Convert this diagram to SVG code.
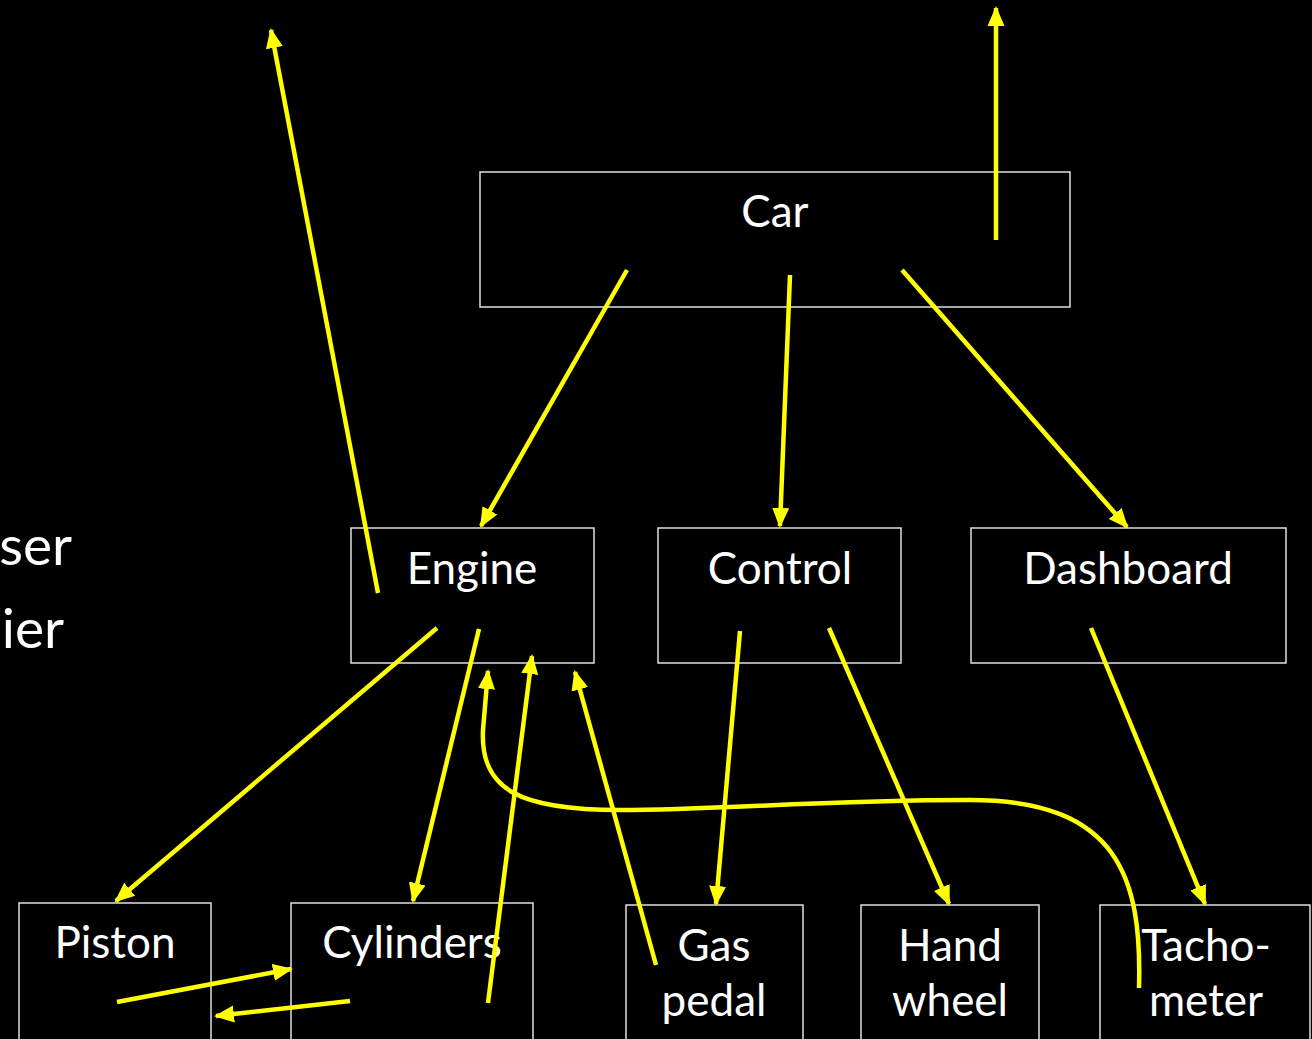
<svg xmlns="http://www.w3.org/2000/svg" width="1312" height="1039" viewBox="0 0 1312 1039">
<defs>
<marker id="ah" markerUnits="userSpaceOnUse" markerWidth="20" markerHeight="20" viewBox="0 0 20 20" refX="18" refY="10" orient="auto">
<path d="M0,1.5 L20,10 L0,18.5 Z" fill="#FFFF00"/>
</marker>
<style>
.box{fill:#000;stroke:#e0e0e0;stroke-width:1.5}
.t{font-family:Lato,"Open Sans","Liberation Sans",sans-serif;font-size:44px;fill:#fff;text-anchor:middle}
.side{font-family:Lato,"Open Sans","Liberation Sans",sans-serif;font-size:55px;fill:#fff;text-anchor:end}
.c{fill:none;stroke:#FFFF00;stroke-width:4.5;marker-end:url(#ah)}
</style>
</defs>
<rect width="1312" height="1039" fill="#000"/>
<text class="side" x="72" y="565">ser</text>
<text class="side" x="64" y="648">ier</text>
<g id="car"><rect class="box" x="480" y="172" width="590" height="135"/><text class="t" x="775" y="227">Car</text></g>
<g id="engine"><rect class="box" x="351" y="528" width="243" height="135"/><text class="t" x="472" y="584">Engine</text></g>
<g id="control"><rect class="box" x="658" y="528" width="243" height="135"/><text class="t" x="780" y="584">Control</text></g>
<g id="dashboard"><rect class="box" x="971" y="528" width="315" height="135"/><text class="t" x="1128" y="584">Dashboard</text></g>
<g id="piston"><rect class="box" x="19" y="903" width="192" height="140"/><text class="t" x="115" y="958">Piston</text></g>
<g id="cylinders"><rect class="box" x="291" y="903" width="242" height="140"/><text class="t" x="412" y="958">Cylinders</text></g>
<g id="gas"><rect class="box" x="626" y="905" width="177" height="140"/><text class="t" x="714" y="961">Gas</text><text class="t" x="714" y="1016">pedal</text></g>
<g id="hand"><rect class="box" x="861" y="905" width="178" height="140"/><text class="t" x="950" y="961">Hand</text><text class="t" x="950" y="1016">wheel</text></g>
<g id="tacho"><rect class="box" x="1100" y="905" width="210" height="140"/><text class="t" x="1206" y="961">Tacho-</text><text class="t" x="1206" y="1016">meter</text></g>
<g id="connectors">
<path class="c" d="M627,270 L481,526"/>
<path class="c" d="M790,275 L780,526"/>
<path class="c" d="M902,270 L1127,527"/>
<path class="c" d="M996,240 L996,8"/>
<path class="c" d="M378,593 L271,30"/>
<path class="c" d="M437,628 L116,901"/>
<path class="c" d="M479,629 L413,901"/>
<path class="c" d="M488,1003 L532,656"/>
<path class="c" d="M656,965 L575,672"/>
<path class="c" d="M1139,988 C1142,880 1120,800 970,800 C820,800 720,810 620,810 C520,810 480,790 483,730 L488,671"/>
<path class="c" d="M740,631 L716,904"/>
<path class="c" d="M829,628 L949,904"/>
<path class="c" d="M1091,628 L1205,904"/>
<path class="c" d="M117,1002 L291,969"/>
<path class="c" d="M350,1001 L216,1016"/>
</g>
</svg>
